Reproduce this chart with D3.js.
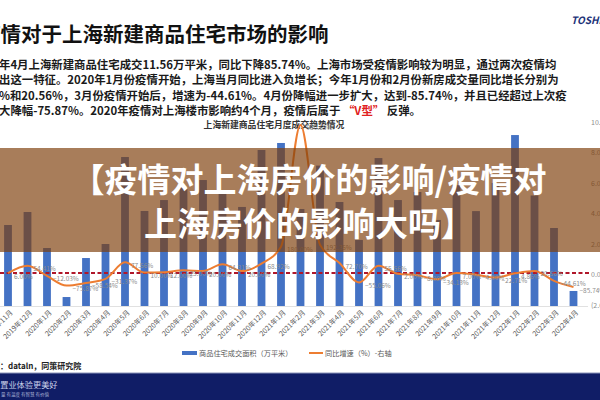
<!DOCTYPE html>
<html>
<head>
<meta charset="utf-8">
<script src="https://cdn.jsdelivr.net/npm/d3@7"></script>
<style>
  body { margin: 0; background: #fff; overflow: hidden; }
  svg { display: block; font-family: "Noto Sans CJK SC", "Noto Sans", sans-serif; }
</style>
</head>
<body>
<svg id="chart" width="600" height="400"></svg>
<script>
// 月份（横轴）
const months = [
  '2019年11月', '2019年12月',
  '2020年1月', '2020年2月', '2020年3月', '2020年4月', '2020年5月', '2020年6月',
  '2020年7月', '2020年8月', '2020年9月', '2020年10月', '2020年11月', '2020年12月',
  '2021年1月', '2021年2月', '2021年3月', '2021年4月', '2021年5月', '2021年6月',
  '2021年7月', '2021年8月', '2021年9月', '2021年10月', '2021年11月', '2021年12月',
  '2022年1月', '2022年2月', '2022年3月', '2022年4月'
];
// 商品住宅成交面积（万平米）
const area = [
  62.3, 72.3,
  44.6, 6.9, 36.9, 47.7, 114.6, 73.1,
  81.5, 90.8, 96.9, 86.9, 76.2, 120.0,
  125.4, 74.6, 108.0, 80.0, 50.8, 113.8,
  81.5, 87.7, 66.2, 93.0, 73.0, 94.6,
  131.5, 85.0, 60.0, 11.56
];
// 同比增速（右轴，1 = 100%）
const growth = [
  0.06, 0.5441,
  -0.1203, -0.7587, -0.5854, -0.3137, 0.7756, 0.10,
  0.12, 0.25, 0.20, 0.6431, 0.20, 0.6892,
  1.80, 9.8065, 1.9235, 0.7270, -0.5506, 0.5556,
  0.02, -0.08, -0.3413, 0.07, -0.04, -0.2271,
  0.0486, 0.2056, -0.4461, -0.8574
];
const rightTicks = [-2, 0, 2, 4, 6, 8, 10];

const paragraph = [
  '年4月上海新建商品住宅成交11.56万平米，同比下降85.74%。上海市场受疫情影响较为明显，通过两次疫情均',
  '出这一特征。2020年1月份疫情开始，上海当月同比进入负增长；今年1月份和2月份新房成交量同比增长分别为',
  '%和20.56%，3月份疫情开始后，增速为-44.61%。4月份降幅进一步扩大，达到-85.74%，并且已经超过上次疫',
];

const svg = d3.select('#chart');

// 标题和说明文字
svg.append('text')
  .attr('x', -20).attr('y', 33)
  .attr('dominant-baseline', 'central')
  .attr('font-size', 20.5).attr('font-weight', 'bold').attr('fill', '#111')
  .text('疫情对于上海新建商品住宅市场的影响');

svg.append('text')
  .attr('x', 571).attr('y', 19)
  .attr('dominant-baseline', 'central')
  .attr('font-size', 10).attr('font-weight', 'bold').attr('font-style', 'italic')
  .attr('fill', '#1d3278')
  .text('TOSHI');

paragraph.forEach((t, i) => {
  svg.append('text')
    .attr('x', -1).attr('y', 63.5 + i * 15.5)
    .attr('dominant-baseline', 'central')
    .attr('font-size', 11.4).attr('font-weight', 'bold').attr('fill', '#1a1a1a')
    .text(t);
});
const last = svg.append('text')
  .attr('x', -1).attr('y', 63.5 + 3 * 15.5)
  .attr('dominant-baseline', 'central')
  .attr('font-size', 11.4).attr('font-weight', 'bold').attr('fill', '#1a1a1a');
last.append('tspan').text('大降幅-75.87%。2020年疫情对上海楼市影响约4个月，疫情后属于 ');
last.append('tspan').attr('fill', '#e02020').text('“V型”');
last.append('tspan').text(' 反弹。');

svg.append('text')
  .attr('x', 274).attr('y', 124)
  .attr('text-anchor', 'middle').attr('dominant-baseline', 'central')
  .attr('font-size', 8.8).attr('font-weight', 'bold').attr('fill', '#333')
  .text('上海新建商品住宅月度成交趋势情况');

// 比例尺
const x = d3.scalePoint().domain(months).range([8, 573.5]);
const yL = d3.scaleLinear().domain([0, 140]).range([306, 124]);
const yR = d3.scaleLinear().domain([-2, 10]).range([304.5, 122]);
const barW = 7.8;

// 柱子
svg.append('g').selectAll('rect')
  .data(area)
  .join('rect')
  .attr('x', (d, i) => x(months[i]) - barW / 2)
  .attr('y', d => yL(d))
  .attr('width', barW)
  .attr('height', d => yL(0) - yL(d))
  .attr('fill', '#4472c4');

// 底部细线
svg.append('line')
  .attr('x1', 0).attr('x2', 588)
  .attr('y1', 306.5).attr('y2', 306.5)
  .attr('stroke', '#d9d9d9').attr('stroke-width', 0.8);

// 零轴虚线
svg.append('line')
  .attr('x1', 0).attr('x2', 590)
  .attr('y1', yR(0) - 1).attr('y2', yR(0) - 1)
  .attr('stroke', '#b0172a').attr('stroke-width', 2)
  .attr('stroke-dasharray', '4,2.5');

// 同比折线
const line = d3.line()
  .x((d, i) => x(months[i]))
  .y(d => yR(d))
  .curve(d3.curveMonotoneX);
svg.append('path')
  .datum(growth)
  .attr('fill', 'none')
  .attr('stroke', '#ed7d31')
  .attr('stroke-width', 2)
  .attr('d', line);

// 数据标签
const pct = d3.format('.2%');
svg.append('g').selectAll('text')
  .data(growth)
  .join('text')
  .attr('x', (d, i) => x(months[i]) + 6)
  .attr('y', d => yR(d) + 2.5)
  .attr('dominant-baseline', 'central')
  .attr('font-size', 6.5).attr('fill', '#8c8c8c')
  .text(d => pct(d));

// 横轴标签
svg.append('g').selectAll('text')
  .data(months)
  .join('text')
  .attr('transform', d => `translate(${x(d) + 3},${311}) rotate(-45)`)
  .attr('text-anchor', 'end')
  .attr('dominant-baseline', 'central')
  .attr('font-size', 7).attr('fill', '#595959')
  .text(d => d);

// 右轴标签
svg.append('g').selectAll('text')
  .data(rightTicks)
  .join('text')
  .attr('x', 591)
  .attr('y', d => yR(d))
  .attr('dominant-baseline', 'central')
  .attr('font-size', 7).attr('fill', '#8c8c8c')
  .text(d => d < 0 ? `(${Math.abs(d).toFixed(2)})` : d.toFixed(2));

// 图例
svg.append('rect')
  .attr('x', 182).attr('y', 351).attr('width', 15).attr('height', 4)
  .attr('fill', '#4472c4');
svg.append('text')
  .attr('x', 199).attr('y', 353)
  .attr('dominant-baseline', 'central')
  .attr('font-size', 7.2).attr('fill', '#595959')
  .text('商品住宅成交面积（万平米）');
svg.append('line')
  .attr('x1', 309).attr('x2', 323).attr('y1', 353).attr('y2', 353)
  .attr('stroke', '#ed7d31').attr('stroke-width', 2);
svg.append('text')
  .attr('x', 325).attr('y', 353)
  .attr('dominant-baseline', 'central')
  .attr('font-size', 7.2).attr('fill', '#595959')
  .text('同比增速（%）-右轴');

// 来源
svg.append('text')
  .attr('x', -16).attr('y', 365)
  .attr('dominant-baseline', 'central')
  .attr('font-size', 8).attr('font-weight', 'bold').attr('fill', '#222')
  .text('来源：dataln，同策研究院');

// 页脚
svg.append('rect')
  .attr('x', 0).attr('y', 373).attr('width', 600).attr('height', 27)
  .attr('fill', '#101d66');
svg.append('line')
  .attr('x1', 0).attr('x2', 600).attr('y1', 373).attr('y2', 373)
  .attr('stroke', '#8a93b8').attr('stroke-width', 1);
svg.append('text')
  .attr('x', -8).attr('y', 384)
  .attr('dominant-baseline', 'central')
  .attr('font-size', 8.2).attr('fill', '#c9d0ea')
  .text('让置业体验更美好');
svg.append('text')
  .attr('x', 1).attr('y', 394)
  .attr('dominant-baseline', 'central')
  .attr('font-size', 4.5).attr('fill', '#aab3d6')
  .text('量 有温度 有智慧 有价值');

// 横幅
svg.append('rect')
  .attr('x', 0).attr('y', 148).attr('width', 600).attr('height', 104)
  .attr('fill', 'rgb(126,62,10)').attr('fill-opacity', 0.674);
const banner = ['【疫情对上海房价的影响/疫情对', '上海房价的影响大吗】'];
banner.forEach((t, i) => {
  svg.append('text')
    .attr('x', 309).attr('y', 178 + i * 44)
    .attr('text-anchor', 'middle').attr('dominant-baseline', 'central')
    .attr('font-size', 33).attr('font-weight', 'bold').attr('fill', '#fff')
    .text(t);
});
</script>
</body>
</html>
